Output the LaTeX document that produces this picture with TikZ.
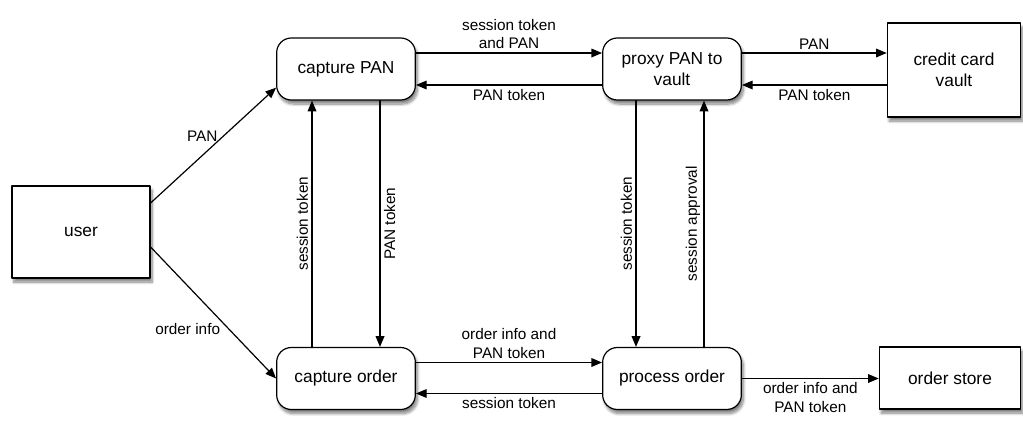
\documentclass[tikz,border=0pt]{standalone}
\usepackage{fontspec}
\setmainfont{Liberation Sans}
\usetikzlibrary{arrows.meta,shadows.blur}

\tikzset{
  proc/.style={draw, line width=0.9pt, rounded corners=11pt, fill=white,
    minimum width=104pt, minimum height=46.5pt, align=center,
    font=\fontsize{13}{15.5}\selectfont,
    blur shadow={shadow xshift=1.5pt, shadow yshift=-3pt, shadow blur steps=8, shadow opacity=50}},
  ext/.style={proc, rounded corners=0pt},
  flow/.style={->, line width=0.9pt},
  lbl/.style={font=\fontsize{11.5}{14}\selectfont, align=center, inner sep=2.5pt}
}

\begin{document}
\begin{tikzpicture}[line cap=round,line join=round,>={Triangle[length=8pt,width=6.5pt]},x=0.75pt,y=-0.75pt]

\useasboundingbox (0,0) rectangle (1023,421);

% nodes
\node[ext, minimum width=103.5pt, minimum height=69pt] (user) at (81,232) {user};
\node[proc] (capPAN) at (346,69) {capture PAN};
\node[proc] (proxy) at (672,69) {proxy PAN to\\vault};
\node[ext, minimum width=100pt, minimum height=70.5pt] (vault) at (954,70) {credit card\\vault};
\node[proc] (capOrder) at (346,378.5) {capture order};
\node[proc] (process) at (672,378.5) {process order};
\node[ext, minimum width=106pt] (store) at (950,378) {order store};

% user
\draw[flow] ([yshift=21.75pt]user.east) -- ([yshift=-14pt]capPAN.west)
  node[lbl, midway, above left, xshift=6pt] {PAN};
\draw[flow] ([yshift=-11.25pt]user.east) -- (capOrder.west)
  node[lbl, midway, below left, xshift=8pt, yshift=-5pt] {order info};

% top row
\draw[flow] ([yshift=12pt]capPAN.east) -- ([yshift=12pt]proxy.west)
  node[lbl, midway, above] {session token\\and PAN};
\draw[flow] ([yshift=-12pt]proxy.west) -- ([yshift=-12pt]capPAN.east)
  node[lbl, midway, below] {PAN token};
\draw[flow] ([yshift=12pt]proxy.east) -- ([yshift=12pt]proxy.east -| vault.west)
  node[lbl, midway, above] {PAN};
\draw[flow] ([yshift=-12pt]proxy.east -| vault.west) -- ([yshift=-12pt]proxy.east)
  node[lbl, midway, below] {PAN token};

% verticals
\draw[flow] ([xshift=-25.5pt]capOrder.north) -- ([xshift=-25.5pt]capPAN.south)
  node[lbl, midway, rotate=90, above] {session token};
\draw[flow] ([xshift=25.5pt]capPAN.south) -- ([xshift=25.5pt]capOrder.north)
  node[lbl, midway, rotate=90, below] {PAN token};
\draw[flow] ([xshift=-27pt]proxy.south) -- ([xshift=-27pt]process.north)
  node[lbl, midway, rotate=90, above] {session token};
\draw[flow] ([xshift=24pt]process.north) -- ([xshift=24pt]proxy.south)
  node[lbl, midway, rotate=90, above] {session approval};

% bottom row
\draw[flow] ([yshift=12pt]capOrder.east) -- ([yshift=12pt]process.west)
  node[lbl, midway, above] {order info and\\PAN token};
\draw[flow] ([yshift=-11.25pt]process.west) -- ([yshift=-11.25pt]capOrder.east)
  node[lbl, midway, below] {session token};
\draw[flow] (process.east) -- (process.east -| store.west)
  node[lbl, midway, below] {order info and\\PAN token};
\end{tikzpicture}
\end{document}
